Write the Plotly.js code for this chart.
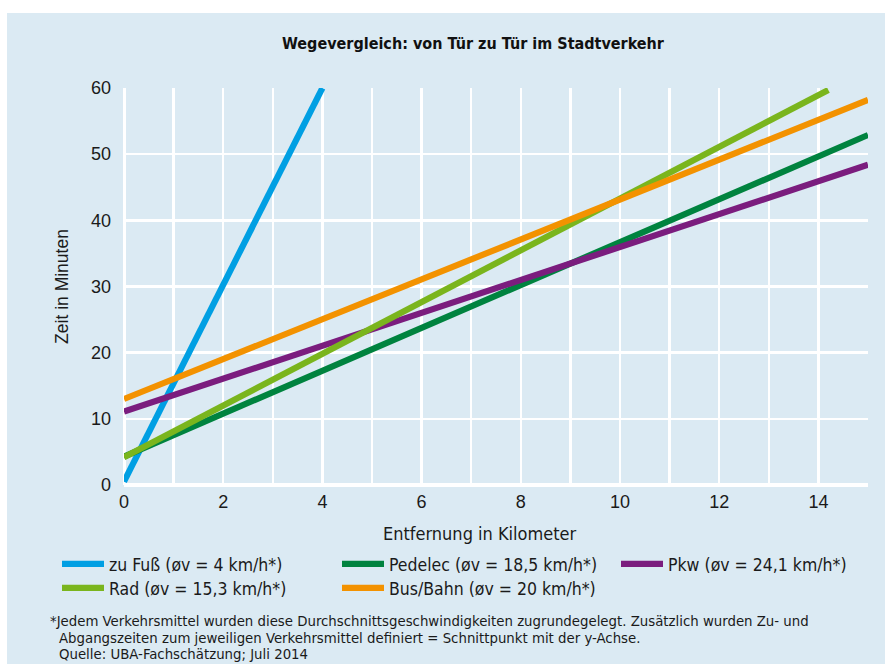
<!DOCTYPE html>
<html>
<head>
<meta charset="utf-8">
<script src="https://cdn.plot.ly/plotly-3.0.1.min.js"></script>
<style>html,body{margin:0;padding:0;background:#fff;}</style>
</head>
<body>
<div id="chart" style="width:887px;height:664px;"></div>
<script>
// Data (distance in km, time in minutes)
const seriesNames = [
  "zu Fuß (øv = 4 km/h*)",
  "Pedelec (øv = 18,5 km/h*)",
  "Pkw (øv = 24,1 km/h*)",
  "Rad (øv = 15,3 km/h*)",
  "Bus/Bahn (øv = 20 km/h*)"
];
const fussX = [0, 4];
const fussY = [0.5, 60];
const pedelecX = [0, 15];
const pedelecY = [4.3, 52.9];
const pkwX = [0, 15];
const pkwY = [11.1, 48.4];
const radX = [0, 14.2];
const radY = [4.2, 59.7];
const busX = [0, 15];
const busY = [13, 58.2];
const xTicks = [0, 2, 4, 6, 8, 10, 12, 14];
const yTicks = [0, 10, 20, 30, 40, 50, 60];
const footLines = [
  "*Jedem Verkehrsmittel wurden diese Durchschnittsgeschwindigkeiten zugrundegelegt. Zusätzlich wurden Zu- und",
  "Abgangszeiten zum jeweiligen Verkehrsmittel definiert = Schnittpunkt mit der y-Achse.",
  "Quelle: UBA-Fachschätzung; Juli 2014"
];

const colors = ["#009fe3", "#00833f", "#7b1d7e", "#7ab51d", "#f39200"];
const narrow = "'Liberation Sans Narrow', 'Arial Narrow', 'DejaVu Sans Condensed', sans-serif";
const regular = "'Liberation Sans', Arial, sans-serif";

const xs = [fussX, pedelecX, pkwX, radX, busX];
const ys = [fussY, pedelecY, pkwY, radY, busY];
const legendIds = ["legend", "legend2", "legend3", "legend4", "legend5"];

const traces = seriesNames.map((n, i) => ({
  type: "scatter", mode: "lines", name: n,
  x: xs[i], y: ys[i],
  line: {color: colors[i], width: 6.2},
  cliponaxis: false,
  legend: legendIds[i]
}));

// plot area: left 124, right 868, top 88, bottom 485
const L = 124, R = 19, T = 88, B = 179;
const W = 887 - L - R, H = 664 - T - B;
const px = v => (v - L) / W;
const py = v => (664 - B - v) / H;

// legend slots: [left px, centre y px]
const legendPos = [[57, 564], [337, 564], [616, 564], [57, 588], [337, 588]];

const footAnn = footLines.map((t, i) => ({
  xref: "paper", yref: "paper", x: px(i === 0 ? 48 : 57), y: py([620, 637, 653][i]),
  xanchor: "left", yanchor: "middle", align: "left", showarrow: false,
  text: t, font: {family: narrow, size: 14.8, color: "#1a1a1a"}
}));

const layout = {
  width: 887, height: 664,
  margin: {l: L, r: R, t: T, b: B},
  paper_bgcolor: "#ffffff",
  plot_bgcolor: "rgba(0,0,0,0)",
  title: {
    text: "<b>Wegevergleich: von Tür zu Tür im Stadtverkehr</b>",
    font: {family: narrow, size: 16, color: "#111"},
    x: 473 / 887, xanchor: "center", xref: "container",
    y: 1 - 43 / 664, yanchor: "middle", yref: "container"
  },
  xaxis: {
    range: [0, 15], tickvals: xTicks, ticks: "",
    showgrid: false,
    minor: {dtick: 1, tick0: 0, showgrid: true, gridcolor: "#ffffff", gridwidth: 2.5, ticks: ""},
    zeroline: true, zerolinecolor: "#ffffff", zerolinewidth: 3,
    showline: false, fixedrange: true,
    tickfont: {family: regular, size: 18, color: "#1a1a1a"},
    ticklabelstandoff: 4
  },
  yaxis: {
    range: [0, 60], tickvals: yTicks, ticks: "",
    showgrid: true, gridcolor: "#ffffff", gridwidth: 2.5,
    zeroline: true, zerolinecolor: "#ffffff", zerolinewidth: 4,
    showline: false, fixedrange: true,
    tickfont: {family: regular, size: 18, color: "#1a1a1a"},
    ticklabelstandoff: 12,
    title: {text: "Zeit in Minuten", font: {family: regular, size: 17.5, color: "#1a1a1a"}, standoff: 17}
  },
  shapes: [{
    type: "rect", xref: "paper", yref: "paper", layer: "below",
    x0: px(7), x1: px(885), y0: py(664), y1: py(13),
    fillcolor: "#dbeaf3", line: {width: 0}
  }],
  annotations: [{
    xref: "paper", yref: "paper", x: px(480), y: py(533),
    xanchor: "center", yanchor: "middle", showarrow: false,
    text: "Entfernung in Kilometer",
    font: {family: narrow, size: 18, color: "#1a1a1a"}
  }].concat(footAnn),
  showlegend: true
};

legendIds.forEach((id, i) => {
  layout[id] = {
    orientation: "h", xanchor: "left", yanchor: "middle",
    x: px(legendPos[i][0]), y: py(legendPos[i][1]),
    bgcolor: "rgba(0,0,0,0)", borderwidth: 0, itemwidth: 42,
    font: {family: narrow, size: 17.5, color: "#1a1a1a"}
  };
});

Plotly.newPlot("chart", traces, layout, {displayModeBar: false, staticPlot: true});
</script>
</body>
</html>
